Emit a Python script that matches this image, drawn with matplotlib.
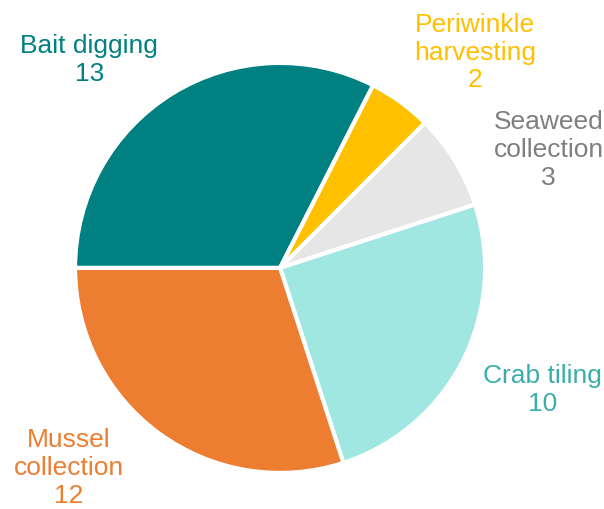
import matplotlib.pyplot as plt

plt.rcParams["font.family"] = ["Liberation Sans", "DejaVu Sans"]

activities = ["Bait digging", "Periwinkle\nharvesting", "Seaweed\ncollection",
              "Crab tiling", "Mussel\ncollection"]
counts = [13, 2, 3, 10, 12]
wedge_colors = ["#008080", "#FFC000", "#E6E6E6", "#A0E6E1", "#ED7D31"]
text_colors = ["#008080", "#FFC000", "#7F7F7F", "#3AAFA9", "#ED7D31"]
# label centres in units of pie radius
label_pos = [(-0.93, 1.015), (0.95, 1.05), (1.31, 0.576), (1.28, -0.595), (-1.03, -0.976)]

fig = plt.figure(figsize=(6.04, 5.09), dpi=100)
ax = fig.add_axes([0, 0, 1, 1])

ax.pie(
    counts,
    colors=wedge_colors,
    startangle=180,
    counterclock=False,
    radius=1.0,
    wedgeprops=dict(edgecolor="white", linewidth=3),
)

for name, n, col, (x, y) in zip(activities, counts, text_colors, label_pos):
    ax.text(x, y, f"{name}\n{n}", color=col, fontsize=19,
            ha="center", va="center", linespacing=1.2)

ax.set_xlim(-1.366, 1.580)
ax.set_ylim(-1.176, 1.307)
ax.set_aspect("equal")
ax.axis("off")

fig.savefig("out.png", dpi=100)
